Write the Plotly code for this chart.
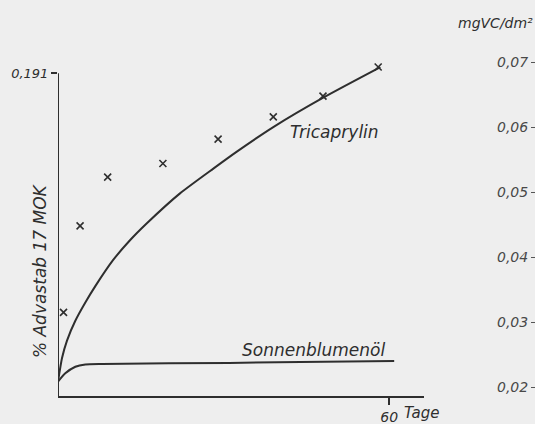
import plotly.graph_objects as go

# Tricaprylin measured points (days, % Advastab 17 MOK)
tric_days = [1, 4, 9, 19, 29, 39, 48, 58]
tric_vals = [0.0495, 0.1007, 0.1295, 0.1376, 0.152, 0.1652, 0.1774, 0.1947]

# Tricaprylin fitted curve
tric_curve_days = [0, 0.73, 1.63, 3.14, 4.95, 6.76, 10.0, 13.0, 16.1, 22.1, 28.2, 32.4, 39.0, 48.2, 58.4]
tric_curve_vals = [0.0085, 0.0225, 0.0328, 0.0445, 0.0553, 0.0650, 0.0805, 0.0920, 0.1022, 0.1199,
                   0.1347, 0.1446, 0.1591, 0.1768, 0.1946]

# Sonnenblumenöl curve
sonn_days = [0, 1.32, 3.14, 4.95, 8.0, 31, 60.9]
sonn_vals = [0.0085, 0.0134, 0.0173, 0.0187, 0.0190, 0.0196, 0.0207]

# axis ticks
left_tick = [0.191]
left_tick_text = ["0,191"]
x_tick = [60]
x_tick_text = ["60"]
right_ticks = [0.02, 0.03, 0.04, 0.05, 0.06, 0.07]
right_tick_text = ["0,02", "0,03", "0,04", "0,05", "0,06", "0,07"]

ink = "#2e2e2e"
bg = "#eeeeee"
FONT = "DejaVu Sans"

fig = go.Figure()
fig.add_trace(go.Scatter(x=tric_curve_days, y=tric_curve_vals, mode="lines",
                         line=dict(color=ink, width=2, shape="spline", smoothing=0.6),
                         cliponaxis=False, showlegend=False, hoverinfo="skip"))
fig.add_trace(go.Scatter(x=sonn_days, y=sonn_vals, mode="lines",
                         line=dict(color=ink, width=2, shape="spline", smoothing=0.6),
                         cliponaxis=False, showlegend=False, hoverinfo="skip"))
fig.add_trace(go.Scatter(x=tric_days, y=tric_vals, mode="markers",
                         marker=dict(symbol="x-thin-open", size=7, color=ink,
                                     line=dict(color=ink, width=1.6)),
                         cliponaxis=False, showlegend=False))
# invisible trace to activate the right axis
fig.add_trace(go.Scatter(x=[None], y=[None], yaxis="y2", showlegend=False))

fig.update_layout(
    width=535, height=424,
    margin=dict(l=58, r=0, t=58, b=28, autoexpand=False),
    paper_bgcolor=bg, plot_bgcolor=bg,
    showlegend=False,
    xaxis=dict(domain=[0, 366 / 477], range=[0, 66.3], showgrid=False, zeroline=False,
               automargin=False,
               showline=True, linecolor=ink, linewidth=2,
               tickvals=x_tick, ticktext=x_tick_text, ticks="outside", ticklen=7,
               tickwidth=1.5, tickcolor=ink,
               tickfont=dict(family=FONT, size=14, color=ink, style="italic")),
    yaxis=dict(range=[0, 0.2], showgrid=False, zeroline=False, showline=False,
               automargin=False,
               tickvals=left_tick, ticktext=left_tick_text, ticks="outside", ticklen=6,
               tickwidth=1.5, tickcolor=ink,
               tickfont=dict(family=FONT, size=13, color=ink, style="italic")),
    yaxis2=dict(overlaying="y", anchor="free", position=1.0, side="left",
                automargin=False,
                range=[0.01862, 0.07062], showgrid=False, zeroline=False, showline=False,
                tickvals=right_ticks, ticktext=right_tick_text, ticks="outside", ticklen=4,
                tickwidth=1, tickcolor="#555555",
                tickfont=dict(family=FONT, size=14, color="#484848", style="italic")),
)

# left axis line up to 0,191
fig.add_shape(type="line", xref="x", yref="y", x0=0, x1=0, y0=0, y1=0.191,
              line=dict(color=ink, width=2))

fig.add_annotation(text="Tricaprylin", xref="x", yref="y", x=50.0, y=0.1564,
                   showarrow=False, font=dict(family=FONT, size=17, color=ink, style="italic"))
fig.add_annotation(text="Sonnenblumenöl", xref="x", yref="y", x=46.2, y=0.0272,
                   showarrow=False, font=dict(family=FONT, size=17, color=ink, style="italic"))
fig.add_annotation(text="Tage", xref="x", yref="y", x=60, y=0, xanchor="left",
                   yanchor="top", xshift=13, yshift=-6, showarrow=False,
                   font=dict(family=FONT, size=15, color=ink, style="italic"))
fig.add_annotation(text="% Advastab 17 MOK", xref="paper", yref="paper",
                   x=-0.0388, y=0.371, xanchor="center", yanchor="middle",
                   textangle=-90, showarrow=False,
                   font=dict(family=FONT, size=17, color=ink, style="italic"))
fig.add_annotation(text="mgVC/dm²", xref="paper", yref="paper", x=1.0, y=1.1035,
                   xanchor="right", yanchor="middle", showarrow=False,
                   font=dict(family=FONT, size=14, color=ink, style="italic"))

fig.write_html("out.html", config={"displayModeBar": False},
               post_script="document.body.style.margin='0';document.body.style.padding='0';"
                           "document.body.style.overflow='hidden';")
